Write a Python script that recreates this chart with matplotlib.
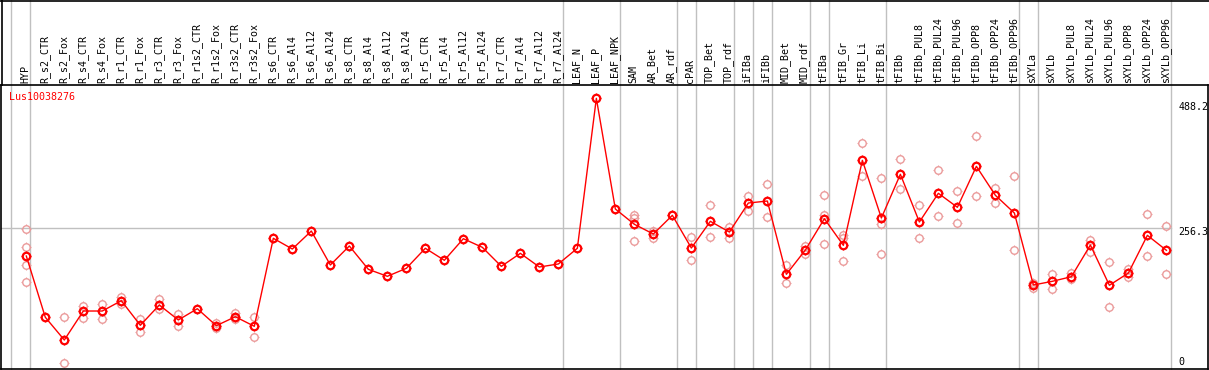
import numpy as np
import matplotlib
matplotlib.use("Agg")
import matplotlib.pyplot as plt
from matplotlib.lines import Line2D
from matplotlib.path import Path

# sample names along the top
samples = ["HYP", "R_s2_CTR", "R_s2_Fox", "R_s4_CTR", "R_s4_Fox", "R_r1_CTR", "R_r1_Fox",
           "R_r3_CTR", "R_r3_Fox", "R_r1s2_CTR", "R_r1s2_Fox", "R_r3s2_CTR", "R_r3s2_Fox",
           "R_s6_CTR", "R_s6_Al4", "R_s6_Al12", "R_s6_Al24", "R_s8_CTR", "R_s8_Al4",
           "R_s8_Al12", "R_s8_Al24", "R_r5_CTR", "R_r5_Al4", "R_r5_Al12", "R_r5_Al24",
           "R_r7_CTR", "R_r7_Al4", "R_r7_Al12", "R_r7_Al24", "LEAF_N", "LEAF_P", "LEAF_NPK",
           "SAM", "AR_Bet", "AR_rdf", "cPAR", "TOP_Bet", "TOP_rdf", "iFIBa", "iFIBb",
           "MID_Bet", "MID_rdf", "tFIBa", "tFIB_Gr", "tFIB_Li", "tFIB_Bi", "tFIBb",
           "tFIBb_PUL8", "tFIBb_PUL24", "tFIBb_PUL96", "tFIBb_OPP8", "tFIBb_OPP24",
           "tFIBb_OPP96", "sXYLa", "sXYLb", "sXYLb_PUL8", "sXYLb_PUL24", "sXYLb_PUL96",
           "sXYLb_OPP8", "sXYLb_OPP24", "sXYLb_OPP96"]

# mean expression per sample
means = [206.9, 97.6, 57.1, 108.8, 108.8, 127.2, 83.3, 119.5, 92.8, 112.9, 82.6, 98.6, 81.5,
         238.5, 219.4, 251.5, 190.9, 224.8, 183.2, 170.7, 185.0, 220.7, 199.3, 237.8, 222.4,
         188.5, 211.7, 187.3, 192.7, 220.7, 488.2, 290.8,
         263.5, 246.2, 279.5, 221.2, 268.8, 249.7, 301.5, 305.0,
         174.3, 217.6, 273.5, 226.0, 377.6, 274.7, 352.7,
         267.6, 318.8, 293.8, 366.9, 315.2, 283.6,
         155.2, 161.8, 170.0, 226.5, 154.7, 176.6, 243.8, 217.1]

# individual replicates (empty where they sit under the mean)
replicates = [[255.1, 222.4, 190.3, 160.0], [], [97.6, 15.5], [117.7, 96.9], [121.3, 94.0],
              [134.3, 121.3], [94.5, 71.9], [130.2, 111.8], [103.5, 82.1], [], [87.9, 78.0],
              [104.7, 95.1], [98.6, 63.0],
              [], [], [], [], [], [], [], [], [], [], [], [], [], [], [], [], [], [], [],
              [279.5, 275.2, 233.1], [252.1, 239.6], [280.5], [240.3, 199.3], [297.4, 240.3],
              [259.2, 239.6], [313.9, 287.7], [334.8, 276.5],
              [190.9, 158.2], [224.2, 210.5], [315.2, 280.6, 228.3], [243.8, 239.0, 198.0],
              [408.0, 349.1], [345.5, 264.0, 210.5], [379.4, 325.9],
              [297.4, 238.5], [359.8, 277.7], [322.3, 265.2], [421.0, 313.4], [328.2, 300.9],
              [349.1, 217.1],
              [159.3, 149.3], [174.8, 147.5], [177.1, 165.4], [235.5, 214.1], [195.7, 115.4],
              [184.3, 168.9], [281.3, 206.4], [260.4, 174.3]]

# last sample index of each group (gray separators drawn after them)
group_ends = [-1, 0, 28, 31, 34, 35, 37, 38, 39, 41, 42, 45, 52, 53, 60]

gene = "Lus10038276"
ymax_label = 488.2
ymid_label = 256.3

# small ticks just outside the circle marker
r0, r1 = 0.38, 0.5
ticks = Path([(0, r0), (0, r1), (0, -r0), (0, -r1), (r0, 0), (r1, 0), (-r0, 0), (-r1, 0)],
             [Path.MOVETO, Path.LINETO] * 4)

W, H = 1209, 370
fig = plt.figure(figsize=(W / 100, H / 100), dpi=100)
# plot area: x 1..1208 px, y 85..369 px
ax = fig.add_axes([1 / W, 1 / H, 1207 / W, 284 / H])
x = np.arange(len(samples))
ax.set_xlim(-1.332, 62.19)
ax.set_ylim(5.35, 512.0)
ax.set_xticks([])
ax.set_yticks([])
for s in ax.spines.values():
    s.set_color("black")
    s.set_linewidth(1.2)

gray = "#c0c0c0"
light = "#eb9a9a"
font = dict(family="DejaVu Sans Mono", size=7.2)

# separators, running up through the header
for g in group_ends:
    ax.axvline(g + 0.22, ymin=0, ymax=369 / 284, color=gray, lw=1, clip_on=False, zorder=1)
ax.axhline(ymid_label, xmin=0, xmax=1170 / 1207, color=gray, lw=1, zorder=1)

# replicates
for i, reps in enumerate(replicates):
    if reps:
        xi = np.full(len(reps), i)
        ax.plot(xi, reps, "o", ms=5.4, mfc="none", mec=light, mew=1.0, zorder=2)
        ax.plot(xi, reps, marker=ticks, ls="none", ms=7.6, mec=light, mew=0.8, zorder=2)

# mean profile
ax.plot(x, means, "-", color="red", lw=1, zorder=3)
ax.plot(x, means, "o", ms=5.4, mfc="none", mec="red", mew=1.6, zorder=4)
ax.plot(x, means, marker=ticks, ls="none", ms=7.8, mec="red", mew=0.8, zorder=4)

# sample names in the header
for i, name in enumerate(samples):
    ax.text(i - 0.05, 1 + 2 / 284, name, rotation=90, ha="center", va="bottom",
            transform=ax.get_xaxis_transform(), clip_on=False, color="black", **font)

fig.text(9.5 / W, 1 - 97 / H, gene, color="red", ha="left", va="center", **font)
fig.text(1178.5 / W, 1 - 106.5 / H, f"{ymax_label}", ha="left", va="center", **font)
fig.text(1178.5 / W, 1 - 232.3 / H, f"{ymid_label}", ha="left", va="center", **font)
fig.text(1178.5 / W, 1 - 362 / H, "0", ha="left", va="center", **font)

# header borders
fig.add_artist(Line2D([0, 1], [1 - 0.5 / H, 1 - 0.5 / H], color="black", lw=1.2))
fig.add_artist(Line2D([1.5 / W, 1.5 / W], [1, 1 - 85 / H], color="black", lw=1.2))

fig.savefig("out.png", dpi=100)
